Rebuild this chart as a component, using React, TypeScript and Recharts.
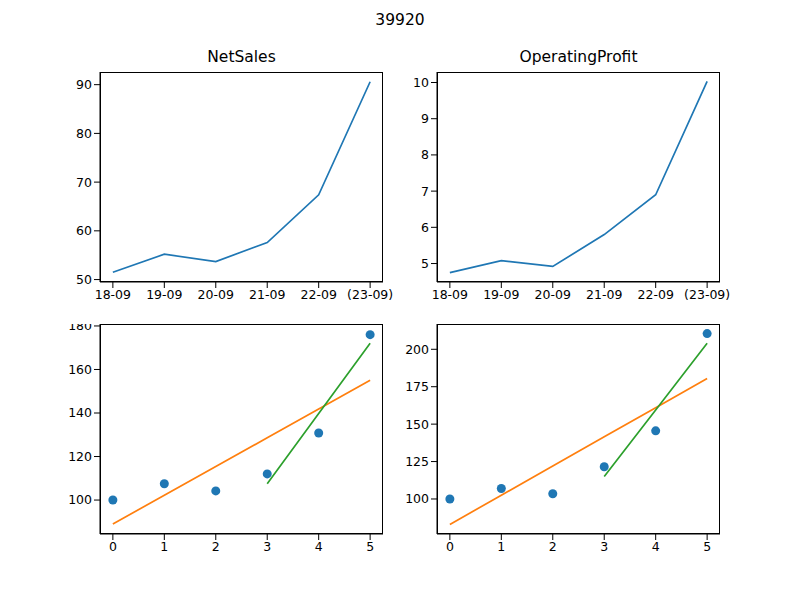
import React from "react";
import { ComposedChart, Line, Scatter, XAxis, YAxis } from "recharts";

const periods = ["18-09", "19-09", "20-09", "21-09", "22-09", "(23-09)"];
const netSales = [51.5, 55.2, 53.7, 57.6, 67.4, 90.6];
const opProfit = [4.75, 5.08, 4.92, 5.8, 6.9, 10.03];
const salesIdx = [100, 107.5, 104.2, 112, 130.8, 176];
const salesFit = [89, 102.2, 115.4, 128.6, 141.8, 155];
const salesFit2 = [null, null, null, 107.5, 139.75, 172];
const profitIdx = [100, 107, 103.5, 121.5, 145.5, 210.5];
const profitFit = [83, 102.5, 122, 141.5, 161, 180.5];
const profitFit2 = [null, null, null, 115, 159.5, 204];

const font = "DejaVu Sans, sans-serif";
const tick = { fill: "#000", fontSize: 12.5, fontFamily: font };

type Panel = {
  left: number; top: number; width: number; height: number;
  domain: [number, number]; ticks: number[]; cat: boolean;
  data: any[]; kind: "line" | "fit"; title?: string;
};

const mk = (arr: (number | null)[][], keys: string[]) =>
  periods.map((_, i) => {
    const o: any = { x: i };
    keys.forEach((k, j) => (o[k] = arr[j][i]));
    return o;
  });

const panels: Panel[] = [
  { left: 100, top: 72, width: 283, height: 210, domain: [49.5, 92.6], ticks: [50, 60, 70, 80, 90], cat: true, data: mk([netSales], ["v"]), kind: "line", title: "NetSales" },
  { left: 437, top: 72, width: 283, height: 210, domain: [4.49, 10.29], ticks: [5, 6, 7, 8, 9, 10], cat: true, data: mk([opProfit], ["v"]), kind: "line", title: "OperatingProfit" },
  { left: 100, top: 324, width: 283, height: 210, domain: [84.4, 180.9], ticks: [100, 120, 140, 160, 180], cat: false, data: mk([salesIdx, salesFit, salesFit2], ["s", "a", "b"]), kind: "fit" },
  { left: 437, top: 324, width: 283, height: 210, domain: [76.6, 216.9], ticks: [100, 125, 150, 175, 200], cat: false, data: mk([profitIdx, profitFit, profitFit2], ["s", "a", "b"]), kind: "fit" },
];

function PanelChart({ p }: { p: Panel }) {
  const yw = 60;
  return (
    <div style={{ position: "absolute", left: p.left - yw, top: p.top }}>
      <ComposedChart width={p.width + yw + 30} height={p.height + 30} data={p.data}
        margin={{ left: 0, right: 30, top: 0, bottom: 0 }}>
        <XAxis dataKey="x" type="number" domain={[-0.25, 5.25]} ticks={[0, 1, 2, 3, 4, 5]}
          tickFormatter={(v: number) => (p.cat ? periods[v] : String(v))}
          tick={tick} height={30} axisLine={{ stroke: "#000" }} tickLine={{ stroke: "#000" }} interval={0} />
        <YAxis type="number" domain={p.domain} ticks={p.ticks} width={yw} tick={tick}
          axisLine={{ stroke: "#000" }} tickLine={{ stroke: "#000" }} allowDataOverflow interval={0} />
        {p.kind === "line" ? (
          <Line dataKey="v" stroke="#1f77b4" strokeWidth={1.7} dot={false} isAnimationActive={false} />
        ) : (
          <>
            <Line dataKey="a" stroke="#ff7f0e" strokeWidth={1.7} dot={false} isAnimationActive={false} />
            <Line dataKey="b" stroke="#2ca02c" strokeWidth={1.7} dot={false} isAnimationActive={false} connectNulls={false} />
            <Scatter dataKey="s" fill="#1f77b4" isAnimationActive={false} shape={(props: any) => <circle cx={props.cx} cy={props.cy} r={4.5} fill="#1f77b4" />} />
          </>
        )}
      </ComposedChart>
      <div style={{ position: "absolute", left: yw, top: 0, width: p.width, height: p.height, border: "1px solid #000", boxSizing: "border-box", pointerEvents: "none" }} />
      {p.title && (
        <div style={{ position: "absolute", left: yw, top: -24, width: p.width, textAlign: "center", fontFamily: font, fontSize: 15.5 }}>{p.title}</div>
      )}
    </div>
  );
}

export default function App() {
  return (
    <div style={{ position: "absolute", left: 0, top: 0, width: 800, height: 600, background: "#fff" }}>
      <div style={{ position: "absolute", top: 11, width: 800, textAlign: "center", fontFamily: font, fontSize: 15.5 }}>39920</div>
      {panels.map((p, i) => <PanelChart key={i} p={p} />)}
    </div>
  );
}
